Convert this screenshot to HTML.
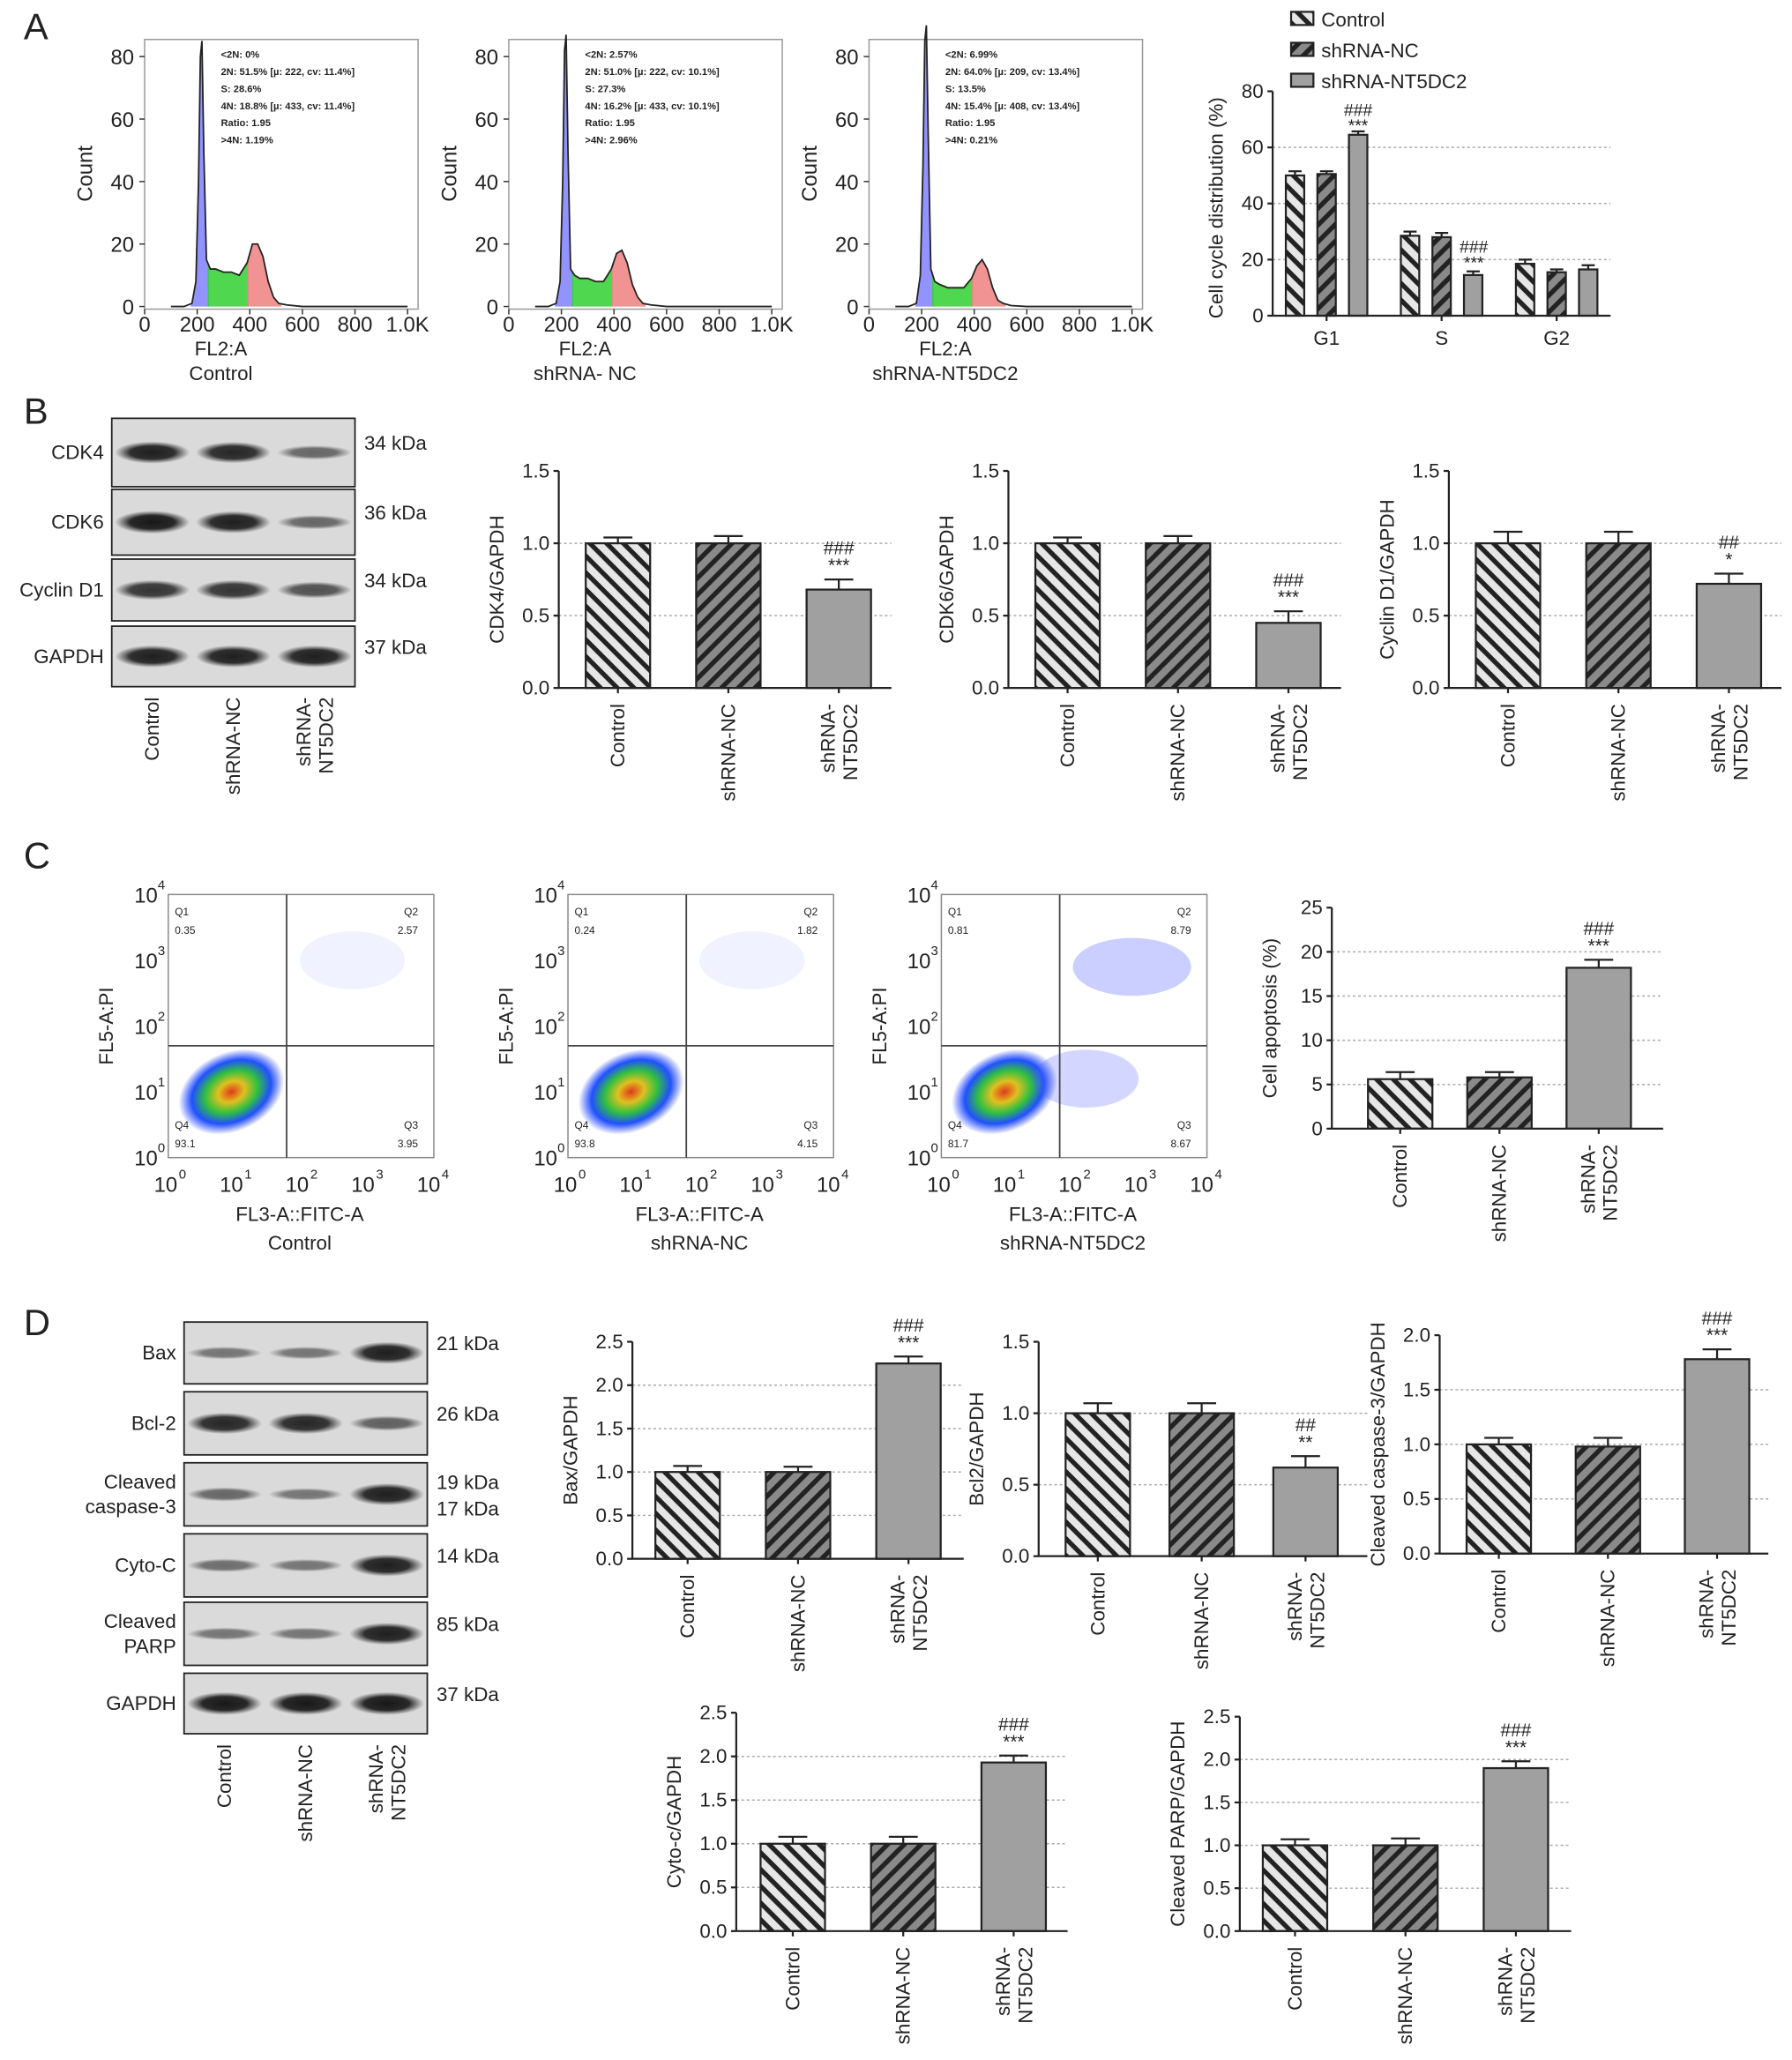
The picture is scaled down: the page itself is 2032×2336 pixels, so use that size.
<!DOCTYPE html>
<html><head><meta charset="utf-8"><style>
html,body{margin:0;padding:0;background:#fff}
svg{display:block;font-family:"Liberation Sans",Arial,sans-serif}
</style></head><body>
<svg id="fig" xmlns="http://www.w3.org/2000/svg" width="2032" height="2336" viewBox="0 0 1363 1566" preserveAspectRatio="none">
<defs>
<pattern id="hCtrl" patternUnits="userSpaceOnUse" width="9" height="9" patternTransform="rotate(45)">
<rect width="9" height="9" fill="#e6e6e6"/><rect width="9" height="3.6" fill="#222"/></pattern>
<pattern id="hNC" patternUnits="userSpaceOnUse" width="9" height="9" patternTransform="rotate(-45)">
<rect width="9" height="9" fill="#8a8a8a"/><rect width="9" height="3.6" fill="#222"/></pattern>
<radialGradient id="dens"><stop offset="0" stop-color="#e03a1a"/><stop offset="0.25" stop-color="#e0c020"/><stop offset="0.5" stop-color="#30c040"/><stop offset="0.75" stop-color="#2050ff"/><stop offset="1" stop-color="#2040ff" stop-opacity="0"/></radialGradient>
<radialGradient id="band"><stop offset="0" stop-color="#111"/><stop offset="0.6" stop-color="#222"/><stop offset="1" stop-color="#333" stop-opacity="0"/></radialGradient>
</defs>
<g id="root"></g>
</svg>
<script>
// ---- Data ----
const histX = [100,150,180,195,205,212,218,225,235,250,270,300,330,360,390,410,430,450,470,490,510,540,600,700,1000];
const histCtrl = [0,0,1,8,40,80,85,50,15,12,12,11,11,10,14,20,20,16,8,3,1,0.5,0,0,0];
const histNC = [0,0,1,8,40,82,87,50,12,10,9,9,8,8,12,17,18,14,7,3,1,0.5,0,0,0];
const histNT = [0,0,1,10,45,85,90,55,12,8,7,6,6,6,9,13,15,12,6,2,1,0.3,0,0,0];
const histTicksX = [0,200,400,600,800,1000];
const histTickLabelsX = ["0","200","400","600","800","1.0K"];
const histTicksY = [0,20,40,60,80];
const phaseCats = ["G1","S","G2"];
const ccCtrl = [50,28.5,18.5];
const ccNC = [50.5,28,15.5];
const ccNT = [64.5,14.5,16.5];
const ccErrCtrl = [1.5,1.5,1.5];
const ccErrNC = [1,1.5,1];
const ccErrNT = [1.2,1.3,1.5];
const groups = ["Control","shRNA-NC","shRNA-NT5DC2"];
const cdk4 = [1.0,1.0,0.68];  const cdk4Err=[0.04,0.05,0.07];
const cdk6 = [1.0,1.0,0.45];  const cdk6Err=[0.04,0.05,0.08];
const cycd1 = [1.0,1.0,0.72]; const cycd1Err=[0.08,0.08,0.07];
const apop = [5.6,5.8,18.2];  const apopErr=[0.8,0.6,0.9];
const bax = [1.0,1.0,2.25];   const baxErr=[0.07,0.06,0.08];
const bcl2 = [1.0,1.0,0.62];  const bcl2Err=[0.07,0.07,0.08];
const casp3 = [1.0,0.98,1.78];const casp3Err=[0.06,0.08,0.09];
const cyto = [1.0,1.0,1.93];  const cytoErr=[0.08,0.08,0.08];
const parp = [1.0,1.0,1.9];   const parpErr=[0.07,0.08,0.08];

const NS="http://www.w3.org/2000/svg";
const root=document.getElementById('root');
function el(tag,attrs,parent,text){const e=document.createElementNS(NS,tag);for(const k in attrs)e.setAttribute(k,attrs[k]);if(text!==undefined)e.textContent=text;(parent||root).appendChild(e);return e;}
function T(x,y,s,size,anchor,parent,extra){const a={x:x,y:y,'font-size':size||15,'text-anchor':anchor||'middle',fill:'#222'};if(extra)for(const k in extra)a[k]=extra[k];return el('text',a,parent,s);}

[["A",18,30],["B",18,322],["C",18,660],["D",18,1015]].forEach(p=>{const t=T(p[1],p[2],p[0],28,'start');});

// ---- Histograms ----
function histogram(x0,counts,title,stats){
  const g=el('g',{});
  
  
  const xs=v=>x0+v*0.2, ys=v=>233-v*(233-43)/80;
  el('rect',{x:x0,y:30,width:208,height:205,fill:'none',stroke:'#999','stroke-width':1},g);
  const pts=histX.map((v,i)=>xs(v)+','+ys(counts[i]));
  const area='M'+xs(histX[0])+','+ys(0)+' L'+pts.join(' L')+' L'+xs(1000)+','+ys(0)+'Z';
  const regs=[[175,245,'#8080ff'],[240,395,'#30d030'],[390,520,'#f08080']];
  regs.forEach((r,i)=>{const id='cl'+x0+'_'+i;const cp=el('clipPath',{id:id},g);el('rect',{x:xs(r[0]),y:30,width:xs(r[1])-xs(r[0]),height:205},cp);el('path',{d:area,fill:r[2],'clip-path':'url(#'+id+')',opacity:0.85},g);});
  el('polyline',{points:pts.join(' '),fill:'none',stroke:'#222','stroke-width':1.2},g);
  histTicksX.forEach((t,i)=>{el('line',{x1:xs(t),x2:xs(t),y1:235,y2:239,stroke:'#333'},g);T(xs(t),252,histTickLabelsX[i],16,'middle',g);});
  histTicksY.forEach(t=>{el('line',{x1:x0-4,x2:x0,y1:ys(t),y2:ys(t),stroke:'#333'},g);T(x0-8,ys(t)+6,String(t),16,'end',g);});
  T(x0-40,132,'Count',16,'middle',g,{transform:'rotate(-90 '+(x0-40)+' 132)'});
  T(x0+58,270,'FL2:A',15,'middle',g);T(x0+58,289,title,15,'middle',g);
  stats.forEach((s,i)=>T(x0+58,44+i*13,s,7.5,'start',g,{'font-weight':'bold'}));
}
histogram(110,histCtrl,'Control',['<2N: 0%','2N: 51.5%   [µ: 222, cv: 11.4%]','S: 28.6%','4N: 18.8%   [µ: 433, cv: 11.4%]','Ratio: 1.95','>4N: 1.19%']);
histogram(387,histNC,'shRNA- NC',['<2N: 2.57%','2N: 51.0%   [µ: 222, cv: 10.1%]','S: 27.3%','4N: 16.2%   [µ: 433, cv: 10.1%]','Ratio: 1.95','>4N: 2.96%']);
histogram(661,histNT,'shRNA-NT5DC2',['<2N: 6.99%','2N: 64.0%   [µ: 209, cv: 13.4%]','S: 13.5%','4N: 15.4%   [µ: 408, cv: 13.4%]','Ratio: 1.95','>4N: 0.21%']);

// ---- Grouped cell cycle bars ----
(function(){
  const g=el('g',{});
  
  
  const ax=968,y0=240,ytop=69.4,max=80;
  const ys=v=>y0-v*(y0-ytop)/max;
  [20,40,60].forEach(t=>el('line',{x1:ax,x2:1225,y1:ys(t),y2:ys(t),stroke:'#aaa','stroke-dasharray':'2,2'},g));
  const fills=['url(#hCtrl)','url(#hNC)','#a0a0a0'];
  const series=[ccCtrl,ccNC,ccNT], errs=[ccErrCtrl,ccErrNC,ccErrNT];
  phaseCats.forEach((c,ci)=>{
    const gc=1009+ci*87.5;
    series.forEach((s,si)=>{
      const cx=gc+(si-1)*24;
      const b=el('rect',{x:cx-7,y:ys(s[ci]),width:14,height:y0-ys(s[ci]),fill:fills[si],stroke:'#222','stroke-width':1.5},g);
      
      
      const e=s[ci]+errs[si][ci];
      el('path',{d:'M'+cx+','+ys(s[ci])+'V'+ys(e)+'M'+(cx-5)+','+ys(e)+'H'+(cx+5),stroke:'#222','stroke-width':1.5,fill:'none'},g);
    });
    T(gc,262,c,15,'middle',g);
    el('line',{x1:gc,x2:gc,y1:y0,y2:y0+4,stroke:'#222','stroke-width':1.5},g);
  });
  T(1033,88,'###',13,'middle',g);T(1033,100,'***',13,'middle',g);
  T(1121,192,'###',13,'middle',g);T(1121,204,'***',13,'middle',g);
  el('line',{x1:ax,x2:ax,y1:ytop,y2:y0,stroke:'#222','stroke-width':1.5},g);
  el('line',{x1:ax,x2:1225,y1:y0,y2:y0,stroke:'#222','stroke-width':1.5},g);
  [0,20,40,60,80].forEach(t=>{el('line',{x1:ax-4,x2:ax,y1:ys(t),y2:ys(t),stroke:'#222','stroke-width':1.5},g);T(ax-7,ys(t)+5,String(t),15,'end',g);});
  T(930,158,'Cell cycle distribution (%)',15,'middle',g,{transform:'rotate(-90 930 158)'});
  groups.forEach((n,i)=>{const y=15+i*23.5;const r=el('rect',{x:982,y:y-6,width:17,height:10,fill:fills[i],stroke:'#222','stroke-width':1.5},g);T(1005,y+5,n,15,'start',g);});
})();

// ---- Generic bar chart ----
function barChart(name,ax,y0,ytop,max,ticks,vals,errs,ylabel,sig,tickFmt,gridVals,axisEnd,off,step){
  const g=el('g',{});
  
  
  const ys=v=>y0-v*(y0-ytop)/max;
  const bw=49;
  gridVals.forEach(t=>el('line',{x1:ax,x2:axisEnd,y1:ys(t),y2:ys(t),stroke:'#aaa','stroke-dasharray':'2,2'},g));
  const fills=['url(#hCtrl)','url(#hNC)','#a0a0a0'];
  vals.forEach((v,i)=>{
    const cx=ax+off+step*i;
    const b=el('rect',{x:cx-bw/2,y:ys(v),width:bw,height:y0-ys(v),fill:fills[i],stroke:'#222','stroke-width':1.5},g);
    
    
    const e=v+errs[i];
    el('path',{d:'M'+cx+','+ys(v)+'V'+ys(e)+'M'+(cx-11)+','+ys(e)+'H'+(cx+11),stroke:'#222','stroke-width':1.5,fill:'none'},g);
    el('line',{x1:cx,x2:cx,y1:y0,y2:y0+4,stroke:'#222','stroke-width':1.5},g);
    if(i<2){T(cx+5,y0+12,groups[i],15,'end',g,{transform:'rotate(-90 '+(cx+5)+' '+(y0+12)+')'});}
    else{T(cx-3,y0+12,'shRNA-',15,'end',g,{transform:'rotate(-90 '+(cx-3)+' '+(y0+12)+')'});T(cx+14,y0+12,'NT5DC2',15,'end',g,{transform:'rotate(-90 '+(cx+14)+' '+(y0+12)+')'});}
    if(i===2&&sig){T(cx,ys(e)-19,sig[0],14,'middle',g);T(cx,ys(e)-6,sig[1],14,'middle',g);}
  });
  el('line',{x1:ax,x2:ax,y1:ytop,y2:y0,stroke:'#222','stroke-width':1.5},g);
  el('line',{x1:ax,x2:axisEnd,y1:y0,y2:y0,stroke:'#222','stroke-width':1.5},g);
  ticks.forEach(t=>{el('line',{x1:ax-4,x2:ax,y1:ys(t),y2:ys(t),stroke:'#222','stroke-width':1.5},g);T(ax-7,ys(t)+5,tickFmt(t),15,'end',g);});
  const my=(y0+ytop)/2;
  T(ax-42,my,ylabel,15,'middle',g,{transform:'rotate(-90 '+(ax-42)+' '+my+')'});
}
const f1=t=>t.toFixed(1), f0=t=>String(t);
barChart('cdk4-bar-chart',425,523,358,1.5,[0,0.5,1,1.5],cdk4,cdk4Err,'CDK4/GAPDH',['###','***'],f1,[0.5,1],678,45,84);
barChart('cdk6-bar-chart',767,523,358,1.5,[0,0.5,1,1.5],cdk6,cdk6Err,'CDK6/GAPDH',['###','***'],f1,[0.5,1],1020,45,84);
barChart('cyclin-d1-bar-chart',1102,523,358,1.5,[0,0.5,1,1.5],cycd1,cycd1Err,'Cyclin D1/GAPDH',['##','*'],f1,[0.5,1],1355,45,84);
barChart('apoptosis-bar-chart',1013,858,690,25,[0,5,10,15,20,25],apop,apopErr,'Cell apoptosis (%)',['###','***'],f0,[5,10,15,20],1265,52,75.5);
barChart('bax-bar-chart',481,1185,1020,2.5,[0,0.5,1,1.5,2,2.5],bax,baxErr,'Bax/GAPDH',['###','***'],f1,[0.5,1,1.5,2],733,42,84);
barChart('bcl2-bar-chart',790,1183,1020,1.5,[0,0.5,1,1.5],bcl2,bcl2Err,'Bcl2/GAPDH',['##','**'],f1,[0.5,1],1040,45,79);
barChart('cleaved-caspase3-bar-chart',1095,1181,1015,2.0,[0,0.5,1,1.5,2],casp3,casp3Err,'Cleaved caspase-3/GAPDH',['###','***'],f1,[0.5,1,1.5],1345,45,83);
barChart('cyto-c-bar-chart',560,1468,1302,2.5,[0,0.5,1,1.5,2,2.5],cyto,cytoErr,'Cyto-c/GAPDH',['###','***'],f1,[0.5,1,1.5,2],812,43,84);
barChart('cleaved-parp-bar-chart',943,1468,1305,2.5,[0,0.5,1,1.5,2,2.5],parp,parpErr,'Cleaved PARP/GAPDH',['###','***'],f1,[0.5,1,1.5,2],1195,42,84);

// ---- Western blots ----
function blots(name,x,w,rows,lanes){
  const g=el('g',{});
  
  
  rows.forEach(r=>{
    const [label,y,h,kda,ints]=r;
    const b=el('rect',{x:x,y:y,width:w,height:h,fill:'#dadada',stroke:'#222','stroke-width':1.2},g);
    
    
    ints.forEach((v,i)=>{const cx=x+w*(i+0.5)/3;el('ellipse',{cx:cx,cy:y+h/2,rx:w/6.5,ry:3+v*6,fill:'url(#band)',opacity:0.3+0.7*v},g);});
    const lines=label.split('\n');
    lines.forEach((l,i)=>T(x-6,y+h/2+5+(i-(lines.length-1)/2)*19,l,15,'end',g));
    const kl=kda.split('\n');
    kl.forEach((k,i)=>T(x+w+7,y+h/2+(kl.length>1?(i?16:-4):-2),k,15,'start',g));
  });
  lanes.forEach((l,i)=>{
    const cx=x+w*(i+0.5)/3, y=rows[rows.length-1][1]+rows[rows.length-1][2]+8;
    if(i<2)T(cx+5,y,l,15,'end',g,{transform:'rotate(-90 '+(cx+5)+' '+y+')'});
    else{T(cx-3,y,'shRNA-',15,'end',g,{transform:'rotate(-90 '+(cx-3)+' '+y+')'});T(cx+14,y,'NT5DC2',15,'end',g,{transform:'rotate(-90 '+(cx+14)+' '+y+')'});}
  });
}
blots('blots-b',85,185,[['CDK4',318,52,'34 kDa',[0.9,0.85,0.4]],['CDK6',372,50,'36 kDa',[0.95,0.9,0.4]],['Cyclin D1',425,47,'34 kDa',[0.75,0.75,0.55]],['GAPDH',476,46,'37 kDa',[0.9,0.9,0.9]]],groups);
blots('blots-d',140,185,[['Bax',1005,47,'21 kDa',[0.3,0.3,0.9]],['Bcl-2',1058,48,'26 kDa',[0.85,0.85,0.45]],['Cleaved\ncaspase-3',1112,48,'19 kDa\n17 kDa',[0.4,0.3,0.9]],['Cyto-C',1166,48,'14 kDa',[0.35,0.3,0.9]],['Cleaved\nPARP',1218,48,'85 kDa',[0.3,0.3,0.9]],['GAPDH',1272,46,'37 kDa',[0.95,0.95,0.95]]],groups);

// ---- Flow cytometry dot plots ----
function flow(name,x0,q,title,extra){
  const g=el('g',{});
  
  
  el('rect',{x:x0,y:680,width:202,height:200,fill:'#fff',stroke:'#888'},g);
  el('ellipse',{cx:x0+48,cy:830,rx:42,ry:30,fill:'url(#dens)',transform:'rotate(-25 '+(x0+48)+' 830)'},g);
  if(extra){el('ellipse',{cx:x0+145,cy:735,rx:45,ry:22,fill:'#5060ff',opacity:0.3},g);el('ellipse',{cx:x0+110,cy:820,rx:40,ry:22,fill:'#5060ff',opacity:0.25},g);}
  else{el('ellipse',{cx:x0+140,cy:730,rx:40,ry:22,fill:'#8090ff',opacity:0.12},g);}
  el('line',{x1:x0+90,x2:x0+90,y1:680,y2:880,stroke:'#444','stroke-width':1.2},g);
  el('line',{x1:x0,x2:x0+202,y1:795,y2:795,stroke:'#444','stroke-width':1.2},g);
  T(x0+5,696,'Q1',8,'start',g);T(x0+5,710,q[0],8,'start',g);
  T(x0+190,696,'Q2',8,'end',g);T(x0+190,710,q[1],8,'end',g);
  T(x0+190,858,'Q3',8,'end',g);T(x0+190,872,q[2],8,'end',g);
  T(x0+5,858,'Q4',8,'start',g);T(x0+5,872,q[3],8,'start',g);
  for(let i=0;i<5;i++){
    const tx=x0+i*50, ty=880-i*50;
    T(tx-2,906,'10',16,'middle',g);T(tx+8,896,String(i),10,'start',g);
    T(x0-17,ty+6,'10',16,'middle',g);T(x0-8,ty-4,String(i),10,'start',g);
  }
  T(x0+100,928,'FL3-A::FITC-A',15,'middle',g);T(x0+100,950,title,15,'middle',g);
  T(x0-42,780,'FL5-A:PI',15,'middle',g,{transform:'rotate(-90 '+(x0-42)+' 780)'});
}
flow('flow-control',128,['0.35','2.57','3.95','93.1'],'Control',false);
flow('flow-shrna-nc',432,['0.24','1.82','4.15','93.8'],'shRNA-NC',false);
flow('flow-shrna-nt5dc2',716,['0.81','8.79','8.67','81.7'],'shRNA-NT5DC2',true);
</script>
</body></html>
